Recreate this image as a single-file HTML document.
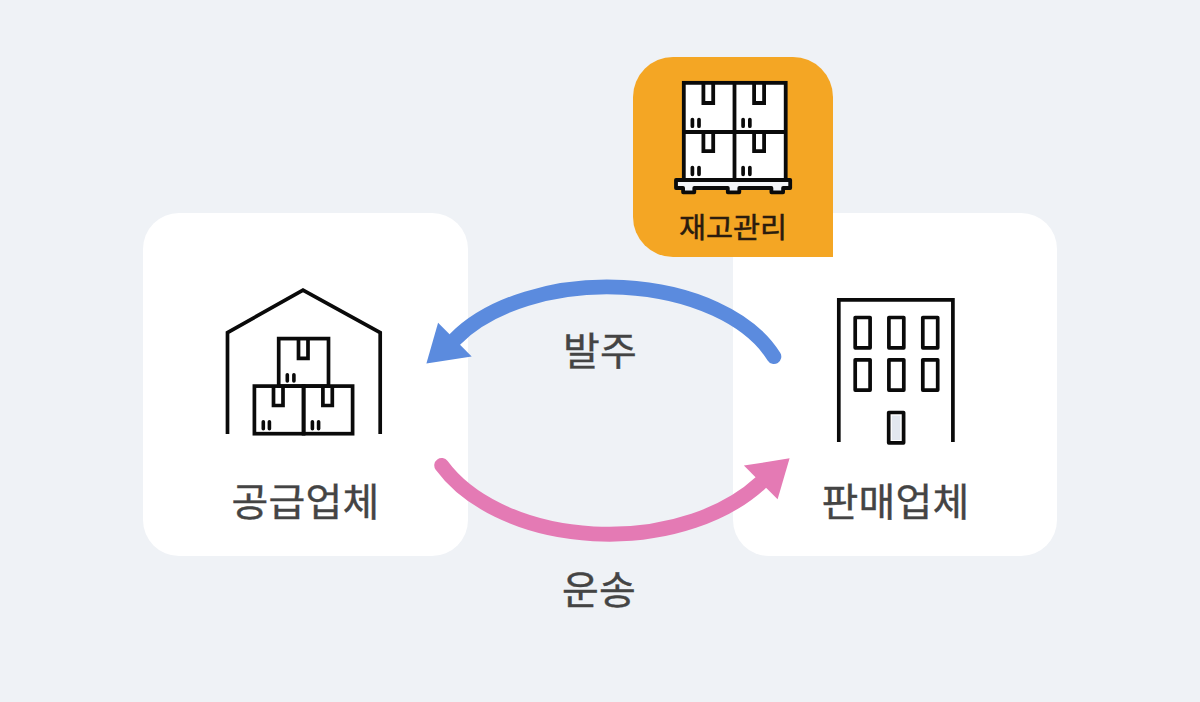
<!DOCTYPE html>
<html lang="ko">
<head>
<meta charset="utf-8">
<title>공급망 다이어그램</title>
<style>
html,body{margin:0;padding:0;}
body{width:1200px;height:702px;overflow:hidden;background:#eff2f6;position:relative;
font-family:"Liberation Sans","Noto Sans CJK KR",sans-serif;}
.card{position:absolute;background:#fff;border-radius:36px;}
#c1{left:143px;top:213px;width:325px;height:343px;}
#c2{left:732.7px;top:213px;width:324.6px;height:343px;}
#inv{position:absolute;left:633px;top:56.5px;width:199.6px;height:200.1px;background:#f4a624;border-radius:40px 40px 0 40px;}
.lbl{position:absolute;white-space:nowrap;color:#444;font-weight:400;-webkit-text-stroke:0.4px #444;line-height:1;transform:scaleY(0.96);transform-origin:0 0;}
svg{position:absolute;left:0;top:0;}
</style>
</head>
<body>
<div class="card" id="c1"></div>
<div class="card" id="c2"></div>
<div id="inv"></div>
<svg width="1200" height="702" viewBox="0 0 1200 702">
<!-- arrows -->
<path d="M773.91 356.62 A177.66 107.28 0 0 0 454.82 339.44" fill="none" stroke="#5b8bde" stroke-width="14.8" stroke-linecap="round"/>
<polygon points="426.4,363.5 438.1,322.7 471.7,356.6" fill="#5b8bde"/>
<path d="M441.66 465.35 A185.53 121.39 0 0 0 760.6 482.74" fill="none" stroke="#e47ab4" stroke-width="14.8" stroke-linecap="round"/>
<polygon points="789.6,458.3 743.9,465.6 777.6,499.2" fill="#e47ab4"/>
<!-- warehouse -->
<g fill="none" stroke="#0a0a0a" stroke-width="3.7" stroke-linejoin="miter" stroke-linecap="butt">
<path d="M227.5 434 V332.6 L303 290.1 L380.2 332.6 V434"/>
<rect x="278.7" y="338.6" width="49.8" height="47.5"/>
<rect x="254.4" y="386.1" width="49.2" height="47.6"/>
<rect x="303.6" y="386.1" width="49" height="47.6"/>
<path d="M298.5 338.6 V358.3 H308 V338.6"/>
<path d="M273.5 386.1 V405.5 H283 V386.1"/>
<path d="M322.9 386.1 V405.5 H332.3 V386.1"/>
<g stroke-linecap="round" stroke-width="3.6">
<path d="M287.3 374.7 V381 M293.9 374.7 V381"/>
<path d="M263.3 421.7 V428.7 M269.4 421.7 V428.7"/>
<path d="M312.4 421.7 V428.7 M318.6 421.7 V428.7"/>
</g>
</g>
<!-- building -->
<g fill="none" stroke="#0a0a0a" stroke-width="3.7" stroke-linejoin="round">
<path d="M838.8 442 V299.9 H952.9 V442" stroke-linejoin="miter"/>
<rect x="855.2" y="317.5" width="14.9" height="30.3"/>
<rect x="888.9" y="317.5" width="14.9" height="30.3"/>
<rect x="922.8" y="317.5" width="14.9" height="30.3"/>
<rect x="855.2" y="359.8" width="14.9" height="30.3"/>
<rect x="888.9" y="359.8" width="14.9" height="30.3"/>
<rect x="922.8" y="359.8" width="14.9" height="30.3"/>
<rect x="888.7" y="412.5" width="14.9" height="30.3" fill="#fff"/>
<rect x="891.8" y="415.6" width="8.5" height="24.4" fill="#e2e7ef" stroke="none"/>
</g>
<!-- pallet -->
<g fill="#fff" stroke="#0a0a0a" stroke-width="3.8" stroke-linejoin="miter">
<rect x="683.8" y="82.85" width="101.9" height="97.2"/>
<path d="M734.5 82.85 V180 M683.8 132 H785.7" fill="none"/>
<path d="M703.4 82.85 V103 H713.2 V82.85" fill="none"/>
<path d="M754.1 82.85 V103 H764.1 V82.85" fill="none"/>
<path d="M703.4 132 V151.1 H713.2 V132" fill="none"/>
<path d="M754.1 132 V151.1 H764.1 V132" fill="none"/>
<g stroke-linecap="round" stroke-width="3.7" fill="none">
<path d="M692.4 119.5 V126.2 M699 119.5 V126.2"/>
<path d="M743.1 119.5 V126.2 M749.85 119.5 V126.2"/>
<path d="M692.4 167.6 V174.3 M699 167.6 V174.3"/>
<path d="M743.1 167.6 V174.3 M749.85 167.6 V174.3"/>
</g>
<path d="M676 180 H790.2 V188 H783.1 V192.3 H771.4 V188 H739.3 V192.3 H727.8 V188 H694.3 V192.3 H683.1 V188 H676 Z" fill="#f3f5f8" stroke-linejoin="round"/>
</g>
</svg>
<div class="lbl" style="left:231.6px;top:482.7px;font-size:40px;letter-spacing:0.15px;">공급업체</div>
<div class="lbl" style="left:821.6px;top:482.7px;font-size:40px;letter-spacing:0.15px;">판매업체</div>
<div class="lbl" style="left:563px;top:332px;font-size:40px;letter-spacing:0.15px;">발주</div>
<div class="lbl" style="left:562px;top:571px;font-size:40px;letter-spacing:0.15px;">운송</div>
<div class="lbl" style="left:679px;top:214.3px;font-size:29.4px;color:#2a1c0e;-webkit-text-stroke:0.5px #2a1c0e;">재고관리</div>
</body>
</html>
